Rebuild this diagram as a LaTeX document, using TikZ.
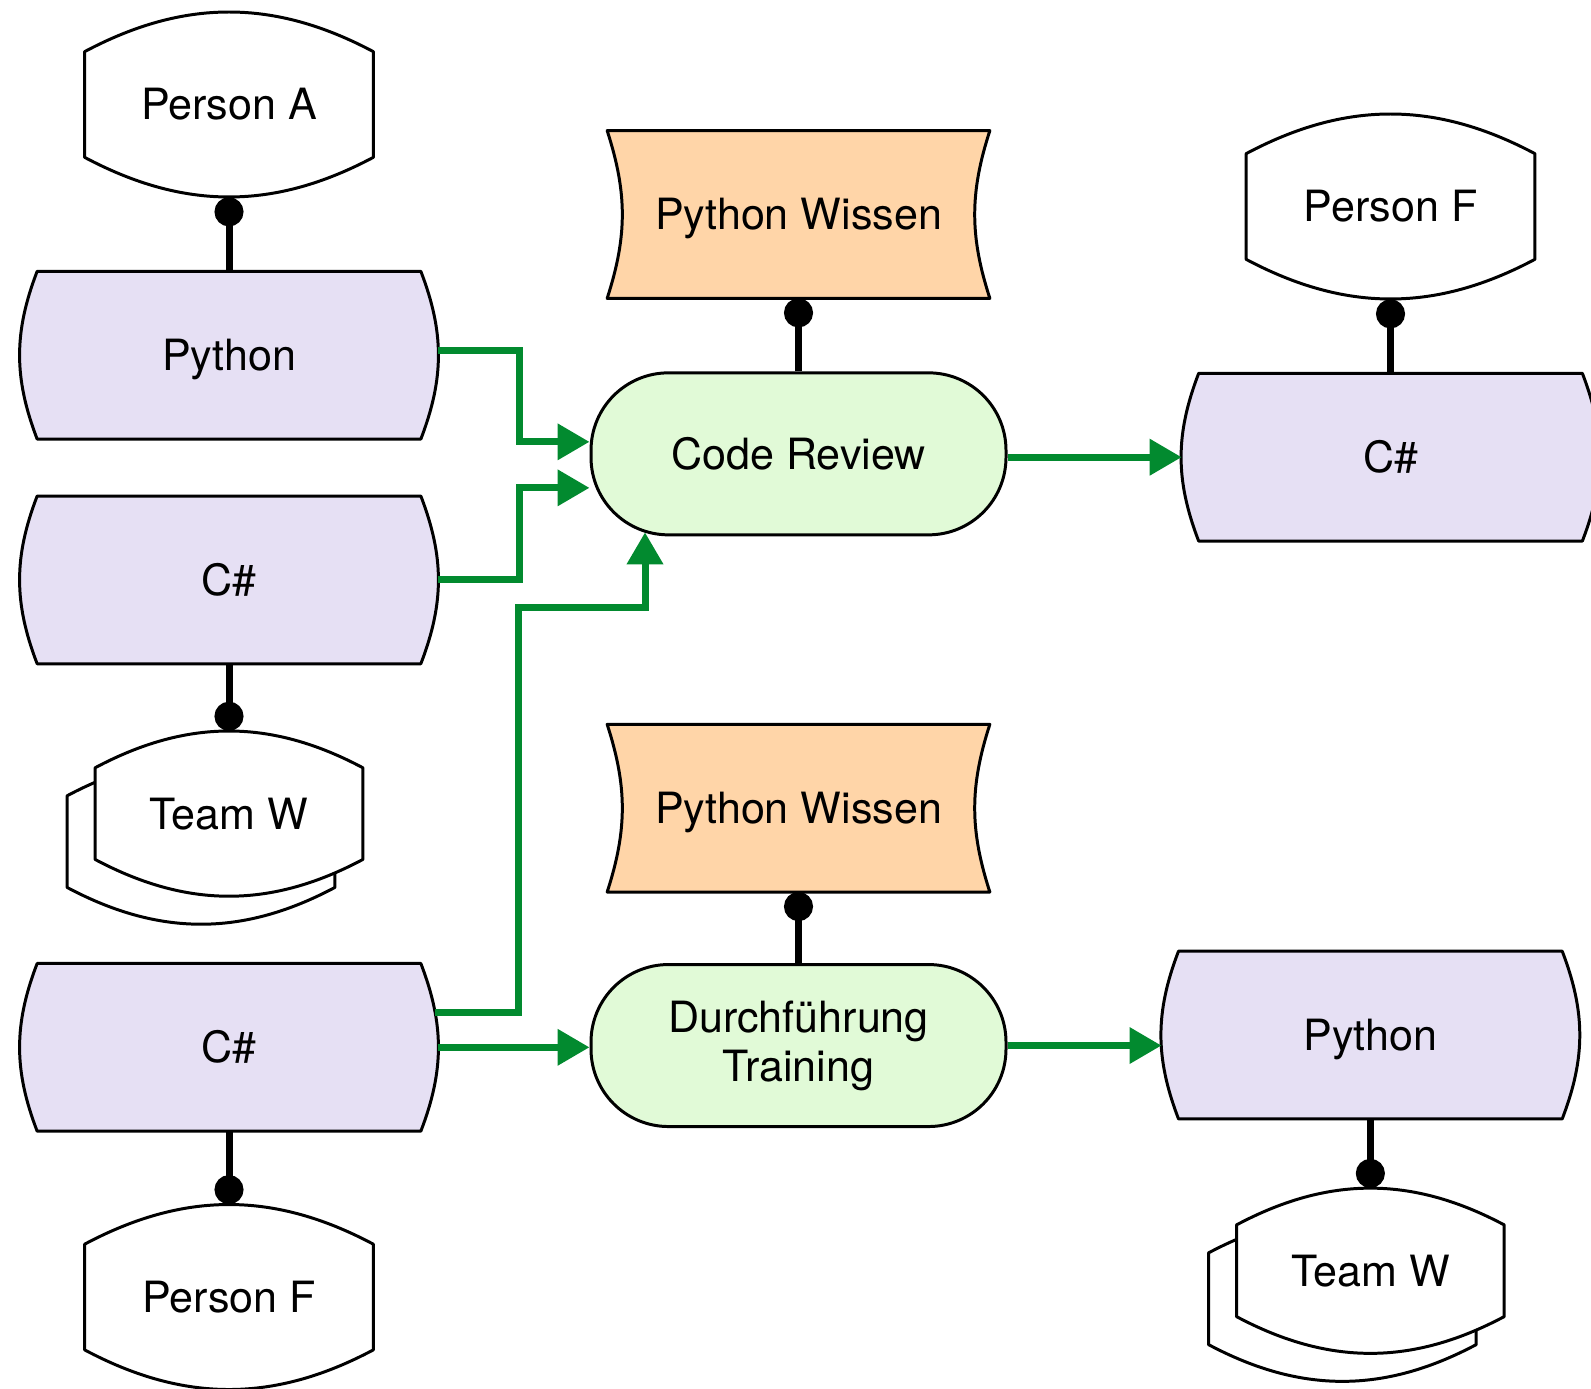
\documentclass[tikz,border=0pt]{standalone}
\usepackage{fontspec}
\setmainfont{TeX Gyre Heros}
\usetikzlibrary{arrows.meta,positioning,backgrounds}

\definecolor{flowgreen}{HTML}{028A2F}
\definecolor{skillfill}{HTML}{E6E0F4}
\definecolor{knowfill}{HTML}{FFD5A8}
\definecolor{actfill}{HTML}{E1FAD7}

\begin{document}
\begin{tikzpicture}[
	every node/.style = {align=center, inner sep=0pt, font=\fontsize{24.5}{28}\selectfont},
	Flow/.style  = {line width=0.14cm, draw=flowgreen, -{Triangle[length=0.64cm,width=0.70cm]}},
	Assoc/.style = {line width=0.14cm, -{Circle[length=0.58cm,width=0.58cm]}},
	Edge/.style  = {line width=1.7pt, line join=round},
	Mid/.style   = {text height=17.6pt, text depth=0pt},
	Role/.style  = {Mid, minimum width=5.76cm, minimum height=3.70cm},
	Team/.style  = {Mid, minimum width=5.34cm, minimum height=3.30cm},
	Skill/.style = {Mid, minimum width=8.34cm, minimum height=3.34cm},
	Know/.style  = {Mid, minimum width=7.64cm, minimum height=3.34cm},
	Act/.style   = {Edge, draw, fill=actfill, rounded corners=1.55cm,
		minimum width=8.30cm, minimum height=3.24cm},
	dy/.style = {yshift=#1}
]
\useasboundingbox (0,0) rectangle (31.82,-27.78);

% left column
\node[Role] (pA) at (4.58,-2.09) {Person A};
\node[Skill, below=1.48cm of pA]  (py1) {Python};
\node[Skill, below=1.14cm of py1] (cs1) {C\#};
\node[Team,  below=1.34cm of cs1] (tw1) {Team W};
\node[Skill, below=1.34cm of tw1] (cs2) {C\#};
\node[Role,  below=1.46cm of cs2] (pF1) {Person F};

% middle column
\node[Know] (kn1) at (15.97,-4.29) {Python Wissen};
\node[Act,  below=1.46cm of kn1] (cr)  {Code Review};
\node[Know, below=3.76cm of cr]  (kn2) {Python Wissen};
\node[Act,  below=1.42cm of kn2] (dt)  {Durchführung\\Training};

% right column
\node[Role] (pF2) at (27.81,-4.13) {Person F};
\node[Skill, below=1.48cm of pF2] (cs3) {C\#};
\node[Skill, right=3.08cm of dt, dy=0.21cm] (py2) {Python};
\node[Team,  below=1.38cm of py2] (tw2) {Team W};

% outlines
\begin{scope}[on background layer]
\foreach \n in {pA,pF1,pF2}
	\draw[Edge, fill=white] ([dy=-0.8cm]\n.north west) to[bend left=28] ([dy=-0.8cm]\n.north east)
		-- ([dy=0.8cm]\n.south east) to[bend left=28] ([dy=0.8cm]\n.south west) -- cycle;
\foreach \n in {tw1,tw2}
	\foreach \s in {-0.56,0}
		\draw[Edge, fill=white, transform canvas={shift={(\s,\s)}}]
			([dy=-0.74cm]\n.north west) to[bend left=28] ([dy=-0.74cm]\n.north east)
			-- ([dy=0.74cm]\n.south east) to[bend left=28] ([dy=0.74cm]\n.south west) -- cycle;
\foreach \n in {py1,cs1,cs2,cs3,py2}
	\draw[Edge, fill=skillfill] ([xshift=0.34cm]\n.north west) -- ([xshift=-0.34cm]\n.north east)
		to[bend left=21] ([xshift=-0.34cm]\n.south east) -- ([xshift=0.34cm]\n.south west)
		to[bend left=21] ([xshift=0.34cm]\n.north west) -- cycle;
\foreach \n in {kn1,kn2}
	\draw[Edge, fill=knowfill] (\n.north west) -- (\n.north east)
		to[bend right=18] (\n.south east) -- (\n.south west)
		to[bend right=18] (\n.north west) -- cycle;
\end{scope}

% assignments
\draw[Assoc] (py1.north) -- (pA.south);
\draw[Assoc] (cs1.south) -- (tw1.north);
\draw[Assoc] (cs2.south) -- (pF1.north);
\draw[Assoc] (cr.north)  -- (kn1.south);
\draw[Assoc] (dt.north)  -- (kn2.south);
\draw[Assoc] (cs3.north) -- (pF2.south);
\draw[Assoc] (py2.south) -- (tw2.north);

% flows
\draw[Flow] ([dy=0.1cm]py1.east) -- ++(1.64,0) |- ([dy=0.24cm]cr.west);
\draw[Flow] (cs1.east) -- ++(1.64,0) |- ([dy=-0.68cm]cr.west);
\draw[Flow] ([shift={(-0.06,0.69)}]cs2.east) -- ++(1.68,0)
	|- ([shift={(-3.07,-1.42)}]cr.south) -- ([shift={(-3.07,0.08)}]cr.south);
\draw[Flow] (cs2.east) -- (cs2.east -| dt.west);
\draw[Flow] (cr.east |- cs3.west) -- (cs3.west);
\draw[Flow] (dt.east) -- (dt.east -| py2.west);
\end{tikzpicture}
\end{document}
